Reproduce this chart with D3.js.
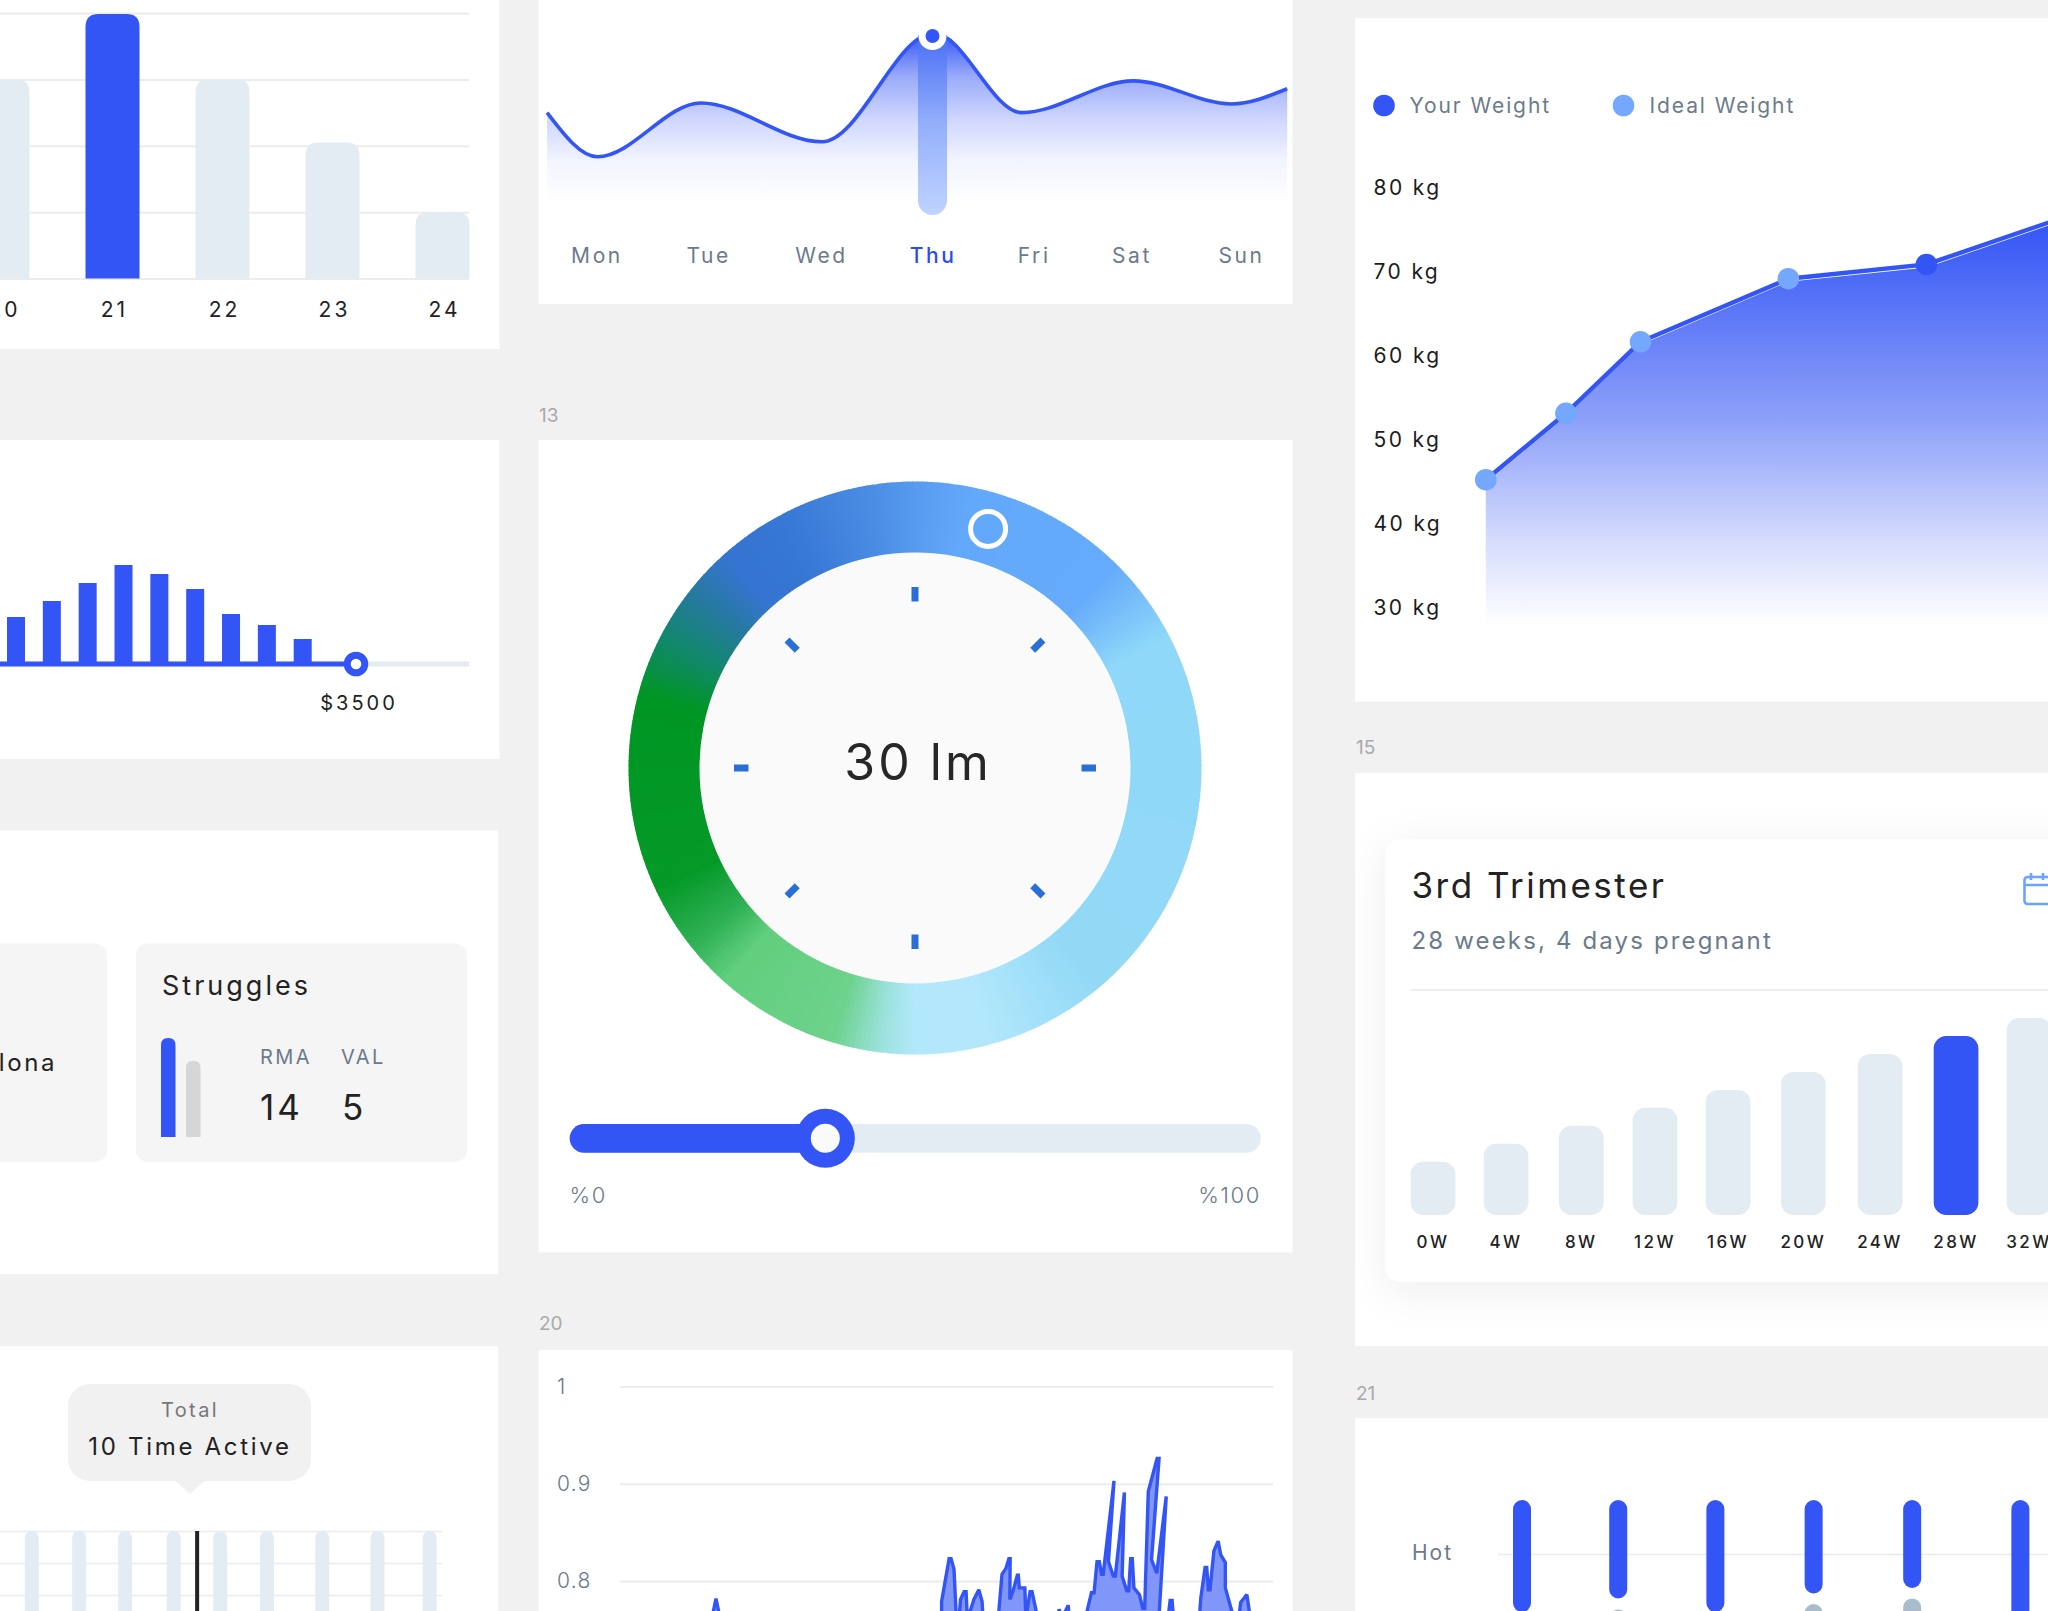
<!DOCTYPE html>
<html><head><meta charset="utf-8">
<script src="https://cdn.jsdelivr.net/npm/d3@7"></script>
<style>
html,body{margin:0;padding:0;background:#f1f1f1;overflow:hidden}
svg{display:block}
text{font-family:Inter,"Noto Sans",sans-serif}
.nodomain .domain{display:none}
</style></head><body>
<svg id="c" width="2048" height="1611"></svg>
<script>
// ---- data ----
const sectionLabels = ["13","20","15","21"];
const paydays = [20,21,22,23,24];
const payValues = [60,79.7,60,41,20];
const budgetBars = [470,630,810,990,900,750,500,390,250];
const budgetMark = 3500;
const weekDays = ["Mon","Tue","Wed","Thu","Fri","Sat","Sun"];
const weekDayPos = [0,1.04,2.09,3.13,4.07,4.98,6];
const weekLineT = [-0.46,0.01,0.97,2.10,3.14,3.96,5.0,5.91,6.43];
const weekLineV = [46.9,24.5,51.8,32.1,87.3,46.9,63,51.3,59];
const gaugeStops = [[0,"#569bef"],[12,"#63a9fb"],[45,"#65abfb"],[63,"#8fd8f9"],[140,"#92d9f6"],[165,"#b2e7fc"],[180,"#b3e8fc"],[187,"#9be2dc"],[197,"#6dd28c"],[222,"#61cf7d"],[232,"#2eb054"],[245,"#059a28"],[285,"#009624"],[297,"#11886a"],[308,"#257a9e"],[318,"#3574d0"],[330,"#3676d4"],[350,"#4a8be4"],[360,"#569bef"]];
const lumens = "30 lm";
const sliderValue = 37;
const struggleBars = [100,77];
const struggleHeads = ["RMA","VAL"];
const struggleScores = [14,5];
const activeSlots = [7.2,17.9,28.3,39.3,49.8,60.4,72.9,85.4,97.2];
const activeMarker = 44.6;
const noiseT = [0,27,28.2,29.4,30.6,32,98.5,98.5,100.8,101.4,102.3,102.9,103.7,104.3,105.4,106,106.4,108.4,109.9,110.9,111.2,115.8,117,118.2,119.1,119.5,119.4,120.5,121.7,122,122.3,124,124.3,125.6,126.2,127.4,128.6,133.2,134.5,135.4,137.3,137.6,142.4,144.4,145.2,146.1,146.8,147.5,148,151.3,149.6,151.1,151.7,154.5,153.8,155.2,155.8,156.4,156.9,157.4,159.1,160.1,160.7,161.8,164.5,165.1,162.8,164.4,167.3,165.2,165.4,167.6,168.5,169.1,169.7,177.3,177.9,179.2,179.7,180.2,180.7,181.9,183.2,184,185.4,185.4,187.3,189.3,190.1,192,192.7,193.3,200];
const noiseV = [.72,.74,.7625,.782,.7625,.74,.762,.779,.823,.823,.812,.77,.755,.781,.789,.789,.76,.781,.791,.779,.76,.76,.807,.813,.823,.823,.781,.791,.806,.806,.793,.793,.762,.789,.789,.77,.75,.75,.771,.762,.775,.76,.76,.788,.788,.82,.82,.807,.807,.903,.82,.805,.805,.891,.805,.79,.79,.823,.823,.793,.786,.772,.772,.892,.926,.926,.822,.808,.887,.77,.755,.755,.78,.78,.755,.755,.783,.814,.814,.791,.791,.831,.841,.827,.819,.793,.77,.755,.778,.786,.77,.755,.72];
const noiseTicks = [1,0.9,0.8];
const kgTicks = [80,70,60,50,40,30];
const weightWeeks = [0,5.8,11.2,21.9,31.9,44.5];
const yourWeight = [45.3,53.2,61.7,69.2,70.9,78];
const weightDotIsYours = [false,false,false,false,true,false];
const trimWeeks = ["0W","4W","8W","12W","16W","20W","24W","28W","32W"];
const trimValues = [3,4,5,6,7,8,9,10,11];
const trimPos = [0,0.98,1.99,2.98,3.96,4.97,6,7.02,8];
const hotSlots = [0,1.318,2.649,3.995,5.345,6.827];
const hotBlueLow = [44,50.8,44,53.3,56,30];
const hotGrayTop = [38,45.3,38,48,50.8,24];

// ---- shared ----
const BLUE="#3355f5", PALE="#e4ecf3", GRID="#ececec", INK="#222", SLATE="#6b7a8c";
const svg=d3.select("#c");
const defs=svg.append("defs");
function txt(g,x,y,s,o={}){return g.append("text").attr("x",x).attr("y",y).text(s)
  .attr("font-size",o.size||20).attr("fill",o.color||INK).attr("text-anchor",o.anchor||"start")
  .attr("font-weight",o.weight||400).style("letter-spacing",(o.ls==null?1.5:o.ls)+"px");}
function topBar(x,y,w,h,r){return `M${x},${y+h}V${y+r}Q${x},${y} ${x+r},${y}H${x+w-r}Q${x+w},${y} ${x+w},${y+r}V${y+h}Z`;}
function vGrad(id,y1,y2,stops){const g=defs.append("linearGradient").attr("id",id).attr("gradientUnits","userSpaceOnUse")
  .attr("x1",0).attr("x2",0).attr("y1",y1).attr("y2",y2);
  stops.forEach(s=>g.append("stop").attr("offset",s[0]).attr("stop-color",s[1]).attr("stop-opacity",s[2]==null?1:s[2]));}
function card(x,y,w,h){svg.append("rect").attr("x",x).attr("y",y).attr("width",w).attr("height",h).attr("fill","#fff");}
card(-10,-10,509.5,359); card(-10,440,509.5,319); card(-10,830.5,508,443.5); card(-10,1346,508,275);
card(538.5,-10,754,314); card(538.5,440,754,812.5); card(538.5,1350,754,271);
card(1355,18,703,683.6); card(1355,773,703,573); card(1355,1418,703,203);
[[539,421.5,0],[539,1329.5,1],[1356,753.5,2],[1356,1399.5,3]].forEach(a=>txt(svg,a[0],a[1],sectionLabels[a[2]],{size:19,color:"#a9a9a9",ls:0}));

// ---- chart 1: days ----
{const g=svg.append("g");
 const x=d3.scalePoint().domain(paydays).range([2.5,442.5]);
 const y=d3.scaleLinear().domain([0,80]).range([278.6,13]);
 g.append("g").attr("class","nodomain").attr("transform","translate(469,0)")
  .call(d3.axisLeft(y).tickValues([0,20,40,60,80]).tickSize(479).tickFormat(""))
  .selectAll("line").attr("stroke",GRID).attr("stroke-width",2);
 g.selectAll(".b").data(paydays).join("path").attr("fill",d=>d===21?BLUE:PALE)
  .attr("d",(d,i)=>topBar(x(d)-27,y(payValues[i]),54,278.6-y(payValues[i]),13));
 paydays.forEach(d=>txt(g,x(d)+2,316.5,d,{size:21,anchor:"middle",ls:3}));
}
// ---- chart 2: budget ----
{const g=svg.append("g"), base=664;
 const x=d3.scalePoint().domain(d3.range(budgetBars.length)).range([16,302.7]);
 const y=d3.scaleLinear().domain([0,1000]).range([base,base-100]);
 const m=d3.scaleLinear().domain([0,4611]).range([0,469]);
 g.append("rect").attr("x",0).attr("y",base-2.5).attr("width",469).attr("height",5).attr("fill",PALE);
 g.append("rect").attr("x",0).attr("y",base-2.5).attr("width",m(budgetMark)).attr("height",5).attr("fill",BLUE);
 g.selectAll(".b").data(budgetBars).join("rect").attr("x",(d,i)=>x(i)-9).attr("width",18)
  .attr("y",d=>y(d)).attr("height",d=>base-y(d)).attr("fill",BLUE);
 g.append("circle").attr("cx",m(budgetMark)).attr("cy",base).attr("r",8.8).attr("fill","#fff").attr("stroke",BLUE).attr("stroke-width",7);
 txt(g,359,710,"$"+budgetMark,{size:20,anchor:"middle",ls:3});
}
// ---- chart 3: struggles ----
{const g=svg.append("g");
 g.append("rect").attr("x",-40).attr("y",943.6).attr("width",147).attr("height",218.4).attr("rx",12).attr("fill","#f5f5f5");
 g.append("rect").attr("x",136).attr("y",943.6).attr("width",331).attr("height",218.4).attr("rx",12).attr("fill","#f5f5f5");
 txt(g,57,1071,"Barcelona",{size:24,anchor:"end",ls:2.6});
 txt(g,162,995,"Struggles",{size:27,ls:3});
 const y=d3.scaleLinear().domain([0,100]).range([1137,1038]);
 [161,186].forEach((bx,i)=>g.append("path").attr("fill",i?"#d6d6d6":BLUE)
   .attr("d",topBar(bx,y(struggleBars[i]),14.5,1137-y(struggleBars[i]),7)));
 [260,341].forEach((tx,i)=>{txt(g,tx,1064,struggleHeads[i],{size:20,color:SLATE,ls:2.4});
   txt(g,tx+(i?1:0),1120,struggleScores[i],{size:35,ls:3});});
}
// ---- chart 4: active ----
{const g=svg.append("g");
 const x=d3.scaleLinear().domain([0,100]).range([0,442]);
 [1531.5,1563.5,1595.5].forEach(v=>g.append("line").attr("x1",0).attr("x2",442).attr("y1",v).attr("y2",v).attr("stroke",GRID).attr("stroke-width",1.5));
 g.selectAll(".b").data(activeSlots).join("rect").attr("x",d=>x(d)-7).attr("y",1531).attr("width",14).attr("height",120).attr("rx",7).attr("fill",PALE);
 g.append("rect").attr("x",x(activeMarker)-2).attr("y",1531).attr("width",4).attr("height",90).attr("fill","#222");
 g.append("rect").attr("x",68).attr("y",1384).attr("width",243).attr("height",97).attr("rx",22).attr("fill","#f1f1f1");
 g.append("path").attr("d","M175,1480.5L190,1494L205,1480.5Z").attr("fill","#f1f1f1");
 txt(g,190,1417,"Total",{size:20,anchor:"middle",color:"#777",ls:2.4});
 txt(g,190,1455,"10 Time Active",{size:24,anchor:"middle",color:"#222",ls:2.7});
}
// ---- chart 5: week curve ----
{const g=svg.append("g");
 const x=d3.scaleLinear().domain([0,6]).range([596.5,1241]);
 const y=d3.scaleLinear().domain([0,100]).range([205,8]);
 vGrad("wkArea",33,205,[[0,BLUE,1],[.25,BLUE,.5],[.5,BLUE,.24],[.75,BLUE,.06],[1,BLUE,0]]);
 vGrad("wkPill",35,215,[[0,"#4a6ef5"],[.5,"#94b0fb"],[1,"#c0d3ff"]]);
 const pts=weekLineT.map((t,i)=>[x(t),y(weekLineV[i])]);
 const curve=d3.curveMonotoneX;
 g.append("path").attr("d",d3.area().x(d=>d[0]).y0(205).y1(d=>d[1]).curve(curve)(pts)).attr("fill","url(#wkArea)");
 g.append("path").attr("d",`M918,35H947V200.5A14.5,14.5 0 0 1 918,200.5Z`).attr("fill","url(#wkPill)");
 g.append("path").attr("d",d3.line().x(d=>d[0]).y(d=>d[1]).curve(curve)(pts)).attr("fill","none").attr("stroke",BLUE).attr("stroke-width",3.6);
 g.append("circle").attr("cx",932.5).attr("cy",36).attr("r",14).attr("fill","#fff");
 g.append("circle").attr("cx",932.5).attr("cy",36).attr("r",7).attr("fill",BLUE);
 weekDays.forEach((d,i)=>txt(g,x(weekDayPos[i])+0.5,263,d,{size:21,anchor:"middle",ls:2.6,
   color:d==="Thu"?"#2b4df0":SLATE,weight:d==="Thu"?500:400}));
}
// ---- chart 6: gauge ----
{const cx=915,cy=768,g=svg.append("g").attr("transform",`translate(${cx},${cy})`);
 const color=d3.scaleLinear().domain(gaugeStops.map(s=>s[0])).range(gaugeStops.map(s=>s[1])).interpolate(d3.interpolateRgb);
 const arc=d3.arc().innerRadius(215).outerRadius(286.5);
 g.selectAll(".seg").data(d3.range(0,360,1)).join("path")
  .attr("d",a=>arc({startAngle:(a-.6)*Math.PI/180,endAngle:(a+.6)*Math.PI/180})).attr("fill",a=>color(a));
 g.append("circle").attr("r",215.5).attr("fill","#fafafa");
 d3.range(8).forEach(i=>g.append("rect").attr("x",-3.5).attr("y",-181).attr("width",7).attr("height",14.5)
   .attr("fill","#2a6fd6").attr("transform",`rotate(${i*45})`));
 const k=17*Math.PI/180, kr=250;
 g.append("circle").attr("cx",kr*Math.sin(k)).attr("cy",-kr*Math.cos(k)).attr("r",17.5).attr("fill","none").attr("stroke","#fff").attr("stroke-width",5);
 txt(g,3,12,lumens,{size:50,anchor:"middle",color:"#272727",ls:3});
 const s=svg.append("g"), sx=d3.scaleLinear().domain([0,100]).range([569.7,1260.6]);
 s.append("rect").attr("x",569.7).attr("y",1124).attr("width",691).attr("height",28.7).attr("rx",14.3).attr("fill",PALE);
 s.append("rect").attr("x",569.7).attr("y",1124).attr("width",sx(sliderValue)-569.7).attr("height",28.7).attr("rx",14.3).attr("fill",BLUE);
 s.append("circle").attr("cx",sx(sliderValue)).attr("cy",1138.3).attr("r",29.5).attr("fill",BLUE);
 s.append("circle").attr("cx",sx(sliderValue)).attr("cy",1138.3).attr("r",14.5).attr("fill","#fafafa");
 txt(s,569.5,1202.7,"%0",{size:22,color:SLATE,ls:1.6,weight:300});
 txt(s,1261,1202.7,"%100",{size:22,color:SLATE,anchor:"end",ls:1.6,weight:300});
}
// ---- chart 7: noisy area ----
{const g=svg.append("g");
 const x=d3.scaleLinear().domain([0,200]).range([620,1273]);
 const y=d3.scaleLinear().domain([1,0.7]).range([1386.5,1678.3]);
 g.append("g").attr("class","nodomain").attr("transform","translate(1273,0)")
  .call(d3.axisLeft(y).tickValues(noiseTicks).tickSize(653).tickFormat(""))
  .selectAll("line").attr("stroke",GRID).attr("stroke-width",2);
 noiseTicks.forEach(t=>txt(g,557,y(t)+7,t,{size:21,color:SLATE,ls:1.3,weight:300}));
 const pts=noiseT.map((t,i)=>[x(t),y(noiseV[i])]);
 g.append("path").attr("d",d3.area().x(d=>d[0]).y0(1679).y1(d=>d[1])(pts)).attr("fill","#8096f8");
 g.append("path").attr("d",d3.line().x(d=>d[0]).y(d=>d[1])(pts)).attr("fill","none").attr("stroke",BLUE).attr("stroke-width",3.4).attr("stroke-linejoin","miter").attr("stroke-miterlimit",2);
}
// ---- chart 8: weight ----
{const g=svg.append("g");
 const x=d3.scaleLinear().domain([0,40.7]).range([1485.8,2048]);
 const y=d3.scaleLinear().domain([30,80]).range([608.4,187.9]);
 vGrad("wtArea",222,624,[[0,BLUE,1],[.5,BLUE,.55],[.8,BLUE,.2],[1,BLUE,0]]);
 const pts=weightWeeks.map((w,i)=>[x(w),y(yourWeight[i])]);
 g.append("path").attr("d",d3.area().x(d=>d[0]).y0(624).y1(d=>d[1]+3)(pts)).attr("fill","url(#wtArea)");
 g.append("path").attr("d",d3.line().x(d=>d[0]).y(d=>d[1])(pts)).attr("fill","none").attr("stroke",BLUE).attr("stroke-width",4.4);
 g.selectAll(".d").data(pts).join("circle").attr("cx",d=>d[0]).attr("cy",d=>d[1]).attr("r",10.8)
  .attr("fill",(d,i)=>weightDotIsYours[i]?BLUE:"#74a8ff");
 kgTicks.forEach(k=>txt(g,1373.5,y(k)+7,k+" kg",{size:21,color:"#1c1c1c",ls:2.4}));
 g.append("circle").attr("cx",1384).attr("cy",105.5).attr("r",10.8).attr("fill",BLUE);
 g.append("circle").attr("cx",1623.5).attr("cy",105.5).attr("r",10.8).attr("fill","#74a8ff");
 txt(g,1409.5,113,"Your Weight",{size:21,color:SLATE,ls:1.9});
 txt(g,1649.5,113,"Ideal Weight",{size:21,color:SLATE,ls:1.9});
}
// ---- chart 9: trimester ----
{defs.append("clipPath").attr("id","trimClip").append("rect").attr("x",1355).attr("y",773).attr("width",703).attr("height",573);
 defs.append("filter").attr("id","soft").attr("x","-20%").attr("y","-30%").attr("width","140%").attr("height","160%")
  .append("feDropShadow").attr("dx",0).attr("dy",8).attr("stdDeviation",22).attr("flood-color","#000").attr("flood-opacity",.07);
 const g=svg.append("g").attr("clip-path","url(#trimClip)");
 g.append("rect").attr("x",1385.6).attr("y",839.5).attr("width",800).attr("height",442.2).attr("rx",14).attr("fill","#fff").attr("filter","url(#soft)");
 txt(g,1411.5,898,"3rd Trimester",{size:35,ls:2.5,color:"#222"});
 txt(g,1411.5,949,"28 weeks, 4 days pregnant",{size:24,color:SLATE,ls:2.15});
 g.append("line").attr("x1",1410.4).attr("x2",2060).attr("y1",990).attr("y2",990).attr("stroke","#e8e8e8").attr("stroke-width",1.5);
 const x=d3.scaleLinear().domain([0,8]).range([1433,2029]);
 const y=d3.scaleLinear().domain([0,11]).range([1215.7,1018]);
 g.selectAll(".b").data(trimValues).join("rect").attr("x",(d,i)=>x(trimPos[i])-22.3).attr("width",44.7)
  .attr("y",d=>y(d)).attr("height",d=>1215-y(d)).attr("rx",12.5).attr("fill",(d,i)=>trimWeeks[i]==="28W"?BLUE:PALE);
 trimWeeks.forEach((w,i)=>txt(g,x(trimPos[i]),1247.5,w,{size:17,anchor:"middle",ls:2.4,color:"#222",weight:500}));
 const ic=g.append("g").attr("fill","none").attr("stroke","#6aa3ff").attr("stroke-width",2.6);
 ic.append("rect").attr("x",2024.5).attr("y",877).attr("width",40).attr("height",27).attr("rx",3);
 ic.append("line").attr("x1",2024.5).attr("x2",2060).attr("y1",885).attr("y2",885);
 ic.append("line").attr("x1",2031).attr("x2",2031).attr("y1",873).attr("y2",880);
 ic.append("line").attr("x1",2043).attr("x2",2043).attr("y1",873).attr("y2",880);
}
// ---- chart 10: hot ----
{const g=svg.append("g");
 const x=d3.scaleLinear().domain([0,1]).range([1522,1595]);
 const y=d3.scaleLinear().domain([0,100]).range([1700,1500]);
 g.append("line").attr("x1",1498).attr("x2",2060).attr("y1",1554.5).attr("y2",1554.5).attr("stroke","#e9ecef").attr("stroke-width",1.5);
 txt(g,1412,1559.5,"Hot",{size:21,color:SLATE,ls:2});
 g.selectAll(".g").data(hotGrayTop).join("rect").attr("x",(d,i)=>x(hotSlots[i])-9).attr("width",18)
  .attr("y",d=>y(d)).attr("height",80).attr("rx",9).attr("fill","#a8bccc");
 g.selectAll(".b").data(hotBlueLow).join("rect").attr("x",(d,i)=>x(hotSlots[i])-9).attr("width",18)
  .attr("y",1500).attr("height",d=>y(d)-1500).attr("rx",9).attr("fill",BLUE);
}
</script></body></html>
